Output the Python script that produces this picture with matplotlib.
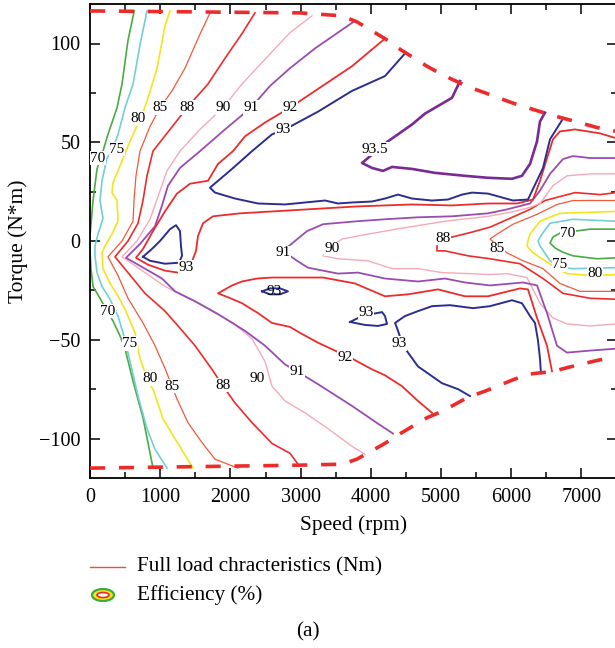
import matplotlib.pyplot as plt
from matplotlib.patches import Ellipse
from matplotlib.lines import Line2D
from matplotlib.ticker import MultipleLocator

plt.rcParams['font.family'] = ['Liberation Serif', 'DejaVu Serif']

# full load envelope, speed in rpm, torque in N*m
limit_speed = [0, 2990, 3590, 3800, 4200, 4420, 4800, 5030, 5390, 5630, 6010, 6230, 6600, 6810, 7220, 7500]
limit_upper = [116.5, 115.5, 114, 111, 102.5, 97, 88.5, 84, 78, 75, 70, 67.5, 63.5, 61.5, 57.5, 55.5]
limit_lower = [-115, -113.5, -113, -110.5, -102.5, -97.5, -89.5, -86, -79, -76, -70.5, -67.5, -66, -64, -60.5, -58.5]

# efficiency iso-lines, each one a list of (rpm, N*m) points
eff70 = [
    [(630, 116.5), (541, 101.5), (456, 79.5), (385, 67.5), (256, 54), (185, 45.5), (100, 36.5), (43, 20.5),
     (0, 2.5), (0, -5), (14, -14), (43, -23), (142, -29), (228, -34.5), (328, -40.5), (427, -48), (499, -54.5),
     (613, -71), (755, -89.5), (898, -115)],
    [(7500, 6), (7123, 6), (6909, 5), (6695, 4), (6595, 2), (6553, -1), (6624, -3.5), (6724, -5.5),
     (6880, -7.5), (7222, -9), (7500, -8.5)],
]
eff75 = [
    [(812, 116.5), (713, 99.5), (613, 79.5), (499, 67.5), (399, 54), (313, 45.5), (242, 42), (171, 30.5),
     (142, 20.5), (185, 11.5), (114, 3.5), (71, -2.5), (71, -7.5), (100, -16), (171, -23), (285, -29.5),
     (399, -38), (470, -46.5), (541, -56.5), (684, -78.5), (812, -95), (926, -105.5), (1097, -115)],
    [(7500, 10), (6880, 11), (6553, 9), (6439, 3.5), (6382, 0), (6410, -2.5), (6553, -10), (6695, -13.5),
     (6880, -14), (7500, -13.5)],
]
eff80 = [
    [(1140, 116.5), (1069, 109), (955, 87.5), (827, 72.5), (755, 65), (570, 50.5), (456, 40.5), (328, 29.5),
     (313, 24.5), (385, 20.5), (399, 10), (313, 3.5), (214, -2.5), (171, -6), (185, -14), (285, -21.5),
     (385, -27), (499, -34.5), (641, -46.5), (713, -59.5), (827, -71), (898, -75), (1040, -90), (1183, -98.5),
     (1468, -115)],
    [(7500, 15), (6695, 14), (6510, 11.5), (6410, 10), (6268, 3.5), (6239, 0), (6225, -2.5), (6311, -6),
     (6652, -14), (6795, -16.5), (7123, -17.5), (7500, -17)],
]
eff85 = [
    [(1709, 115.5), (1538, 102.5), (1353, 87.5), (1168, 76), (997, 67.5), (855, 58), (712, 45.5), (655, 33),
     (627, 20.5), (613, 10), (456, 0), (256, -8), (399, -17.5), (541, -29), (755, -41.5), (926, -53),
     (1068, -64.5), (1168, -73.5), (1239, -80), (1396, -92), (1595, -102), (1781, -110.5), (2108, -115)],
    [(7500, 20.5), (6880, 20.5), (6652, 18.5), (6368, 13.5), (6026, 8.5), (5798, 3.5), (5698, 1),
     (5798, -2), (5940, -6), (6168, -10), (6453, -14), (6695, -21.5), (6980, -25.5), (7500, -25.5)],
]
eff88 = [
    [(2350, 115.5), (2165, 105), (1923, 92.5), (1681, 79.5), (1382, 67.5), (1140, 56.5), (897, 45.5),
     (812, 33), (755, 20.5), (684, 9), (541, 0), (356, -8), (541, -16), (783, -26.5), (1068, -35.5),
     (1254, -43), (1496, -53), (1738, -65), (1895, -73.5), (2066, -82), (2308, -92), (2593, -102.5),
     (2849, -107.5), (2963, -113)],
    [(7500, 24.5), (7265, 23.5), (6909, 24.5), (6695, 22.5), (6481, 20.5), (6268, 16), (5983, 11.5),
     (5698, 7), (5442, 4.5), (5157, 2), (4986, 1), (4943, -2.5), (4943, -5), (5057, -5), (5385, -7.5),
     (5698, -9), (6125, -11.5), (6453, -19), (6738, -26.5), (7123, -29), (7500, -29.5)],
]
eff90 = [
    [(3162, 114), (2849, 105.5), (2493, 92), (2165, 79.5), (1895, 67.5), (1567, 56.5), (1282, 45.5),
     (1097, 35.5), (969, 22.5), (855, 11), (669, 0), (456, -8), (783, -16), (1068, -23), (1567, -32),
     (2037, -41.5), (2308, -49.5), (2493, -61), (2593, -73.5), (2778, -81), (3063, -87), (3390, -95),
     (3732, -104), (3917, -108)],
    [(7500, 34), (7123, 34), (6795, 33), (6595, 28), (6410, 19), (6268, 17), (5983, 14.5), (5670, 12.5),
     (5057, 10), (4444, 6.5), (3960, 3.5), (3590, 1), (3447, -2.5), (3319, -7.5), (3533, -9), (3960, -10),
     (4302, -14), (4672, -14), (5014, -16), (5385, -16.5), (5698, -17), (5940, -16.5), (6225, -18.5),
     (6410, -31.5), (6595, -39), (6795, -42), (7123, -43), (7500, -42)],
]
eff91 = [
    [(3775, 111.5), (3205, 97.5), (2849, 87.5), (2564, 78.5), (2293, 67.5), (1923, 56.5), (1567, 45.5),
     (1282, 37), (1111, 28), (1026, 18), (926, 7.5), (712, -1.5), (513, -8.5), (783, -14), (1026, -19),
     (1211, -25.5), (1496, -30.5), (1823, -37), (2208, -45.5), (2493, -53), (2778, -62.5), (2949, -66),
     (3248, -72.5), (3732, -83.5), (4103, -92.5), (4316, -97.5)],
    [(7500, 42), (7123, 42), (6880, 43), (6738, 41.5), (6553, 34), (6410, 25.5), (6268, 19), (5940, 16),
     (5670, 14), (5157, 12.5), (4672, 12), (4202, 11), (3803, 10), (3319, 8.5), (3091, 5), (2920, 0),
     (2749, -5), (2949, -10), (3105, -13.5), (3319, -15), (3533, -16.5), (3818, -16), (4202, -19),
     (4672, -20.5), (5057, -19), (5342, -21), (5698, -22.5), (6168, -21), (6368, -22.5), (6510, -36.5),
     (6652, -53), (6795, -56.5), (7123, -55.5), (7500, -54.5)],
]
eff92 = [
    [(4202, 102.5), (3732, 88.5), (3248, 77), (2849, 67.5), (2493, 60), (2208, 53), (2037, 45.5),
     (1823, 39), (1681, 30.5), (1425, 29), (1239, 24), (1068, 15), (897, 5), (755, -4), (655, -8.5),
     (826, -12), (1068, -15), (1254, -16), (1425, -13), (1510, -5), (1538, 2.5), (1610, 9), (1752, 12.5),
     (2137, 14), (2849, 15.5), (3803, 17.5), (4587, 18.5), (5157, 18), (5670, 19), (6082, 19), (6311, 21),
     (6410, 30.5), (6595, 51.5), (6695, 55.5), (6909, 56.5), (7265, 54.5), (7500, 52)],
    [(4872, -87), (4672, -81), (4444, -73.5), (4202, -68), (4017, -65), (3732, -59.5), (3248, -51.5),
     (2991, -46.5), (2849, -43.5), (2593, -41.5), (2393, -36.5), (2165, -31.5), (1966, -28.5),
     (1823, -26.5), (2023, -22.5), (2165, -20.5), (2379, -19), (2593, -18.5), (2849, -18.5), (3319, -18.5),
     (3775, -21.5), (4202, -28), (4530, -27), (4957, -24.5), (5342, -28), (5670, -28), (6125, -24),
     (6239, -24.5), (6368, -39), (6510, -53), (6581, -66)],
]
eff93 = [
    [(4500, 95.5), (4202, 83.5), (3732, 76), (3248, 65.5), (2778, 56.5), (2593, 54), (2308, 45.5),
     (2023, 36.5), (1709, 27), (1781, 24.5), (2066, 21.5), (2393, 19), (2778, 18.5), (3063, 19.5),
     (3348, 20.5), (3533, 19), (3732, 19.5), (4017, 20), (4202, 21.5), (4387, 23.5), (4587, 21.5),
     (4872, 20.5), (5100, 21), (5299, 23.5), (5442, 24.5), (5670, 24), (6026, 20.5), (6239, 21),
     (6453, 37), (6553, 51.5), (6738, 62)],
    [(755, -8), (883, -4), (997, 0), (1140, 6), (1225, 8), (1282, 5), (1296, -2.5), (1311, -7.5),
     (1268, -11), (1068, -11.5), (855, -10), (755, -8)],
    [(2450, -25.5), (2564, -24), (2707, -24), (2820, -25.5), (2707, -27), (2564, -27), (2450, -25.5)],
    [(3704, -41), (3875, -38), (4160, -36), (4202, -38), (4231, -42), (4103, -43), (3917, -42.5), (3704, -41)],
    [(5413, -78.5), (5242, -75), (5014, -72), (4672, -63.5), (4459, -53), (4373, -44), (4345, -41.5),
     (4487, -38), (4672, -35.5), (4872, -33), (5128, -32.5), (5456, -34), (5698, -33), (6011, -30),
     (6153, -31.5), (6268, -38), (6339, -41.5), (6382, -50.5), (6410, -59.5), (6424, -67)],
]
eff935 = [
    [(5271, 81), (5157, 72.5), (4772, 64.5), (4587, 59), (4387, 54), (4245, 50.5), (3875, 39.5),
     (4017, 37), (4174, 35.5), (4302, 37.5), (4587, 36.5), (4914, 34.5), (5342, 33), (5670, 32),
     (6011, 31.5), (6153, 33), (6268, 39), (6368, 50.5), (6410, 60.5), (6481, 65)],
]

# inline level labels: text, rpm, N*m
level_labels = [
    ("70", 114, 42), ("70", 256, -35.5), ("70", 6809, 4),
    ("75", 385, 46.5), ("75", 570, -52), ("75", 6695, -12),
    ("80", 684, 62), ("80", 855, -69.5), ("80", 7194, -16.5),
    ("85", 997, 67.5), ("85", 1168, -73.5), ("85", 5798, -4),
    ("88", 1382, 67.5), ("88", 1895, -73), ("88", 5029, 1.5),
    ("90", 1895, 67.5), ("90", 2379, -69.5), ("90", 3447, -4),
    ("91", 2293, 67.5), ("91", 2949, -66), ("91", 2749, -6),
    ("92", 2849, 67.5), ("92", 3632, -59),
    ("93", 2749, 56.5), ("93", 1368, -13.5), ("93", 2621, -25.5), ("93", 3932, -36), ("93", 4402, -52),
    ("93.5", 4060, 46.5),
]

RED = '#ee2b2b'
styles = [
    (eff70, '#4aab45', 1.2),
    (eff75, '#72cfd2', 1.2),
    (eff80, '#f4e41c', 1.2),
    (eff85, '#f2583c', 0.9),
    (eff88, RED, 1.2),
    (eff90, '#f5aab9', 1.0),
    (eff91, '#9a4cb0', 1.3),
    (eff92, RED, 1.3),
    (eff93, '#2c2e8f', 1.4),
    (eff935, '#7a2a97', 1.9),
]

fig = plt.figure(figsize=(6.15, 6.48), dpi=100)
ax = fig.add_axes([90 / 615, 170 / 648, 526.5 / 615, 474 / 648])

for lines, color, lw in styles:
    for seg in lines:
        xs, ys = zip(*seg)
        ax.plot(xs, ys, color=color, lw=lw, solid_joinstyle='round', zorder=2)

ax.plot(limit_speed, limit_upper, color=RED, lw=2.6, dashes=(4.2, 3.8), zorder=3)
ax.plot(limit_speed, limit_lower, color=RED, lw=2.6, dashes=(4.2, 3.8), zorder=3)

for txt, sx, ty in level_labels:
    box = None
    if not (txt == "93" and sx == 2621):
        box = dict(boxstyle='square,pad=0.05', fc='white', ec='none')
    ax.text(sx, ty, txt, fontsize=11, ha='center', va='center', bbox=box, zorder=4)

ax.set_xlim(0, 7500)
ax.set_ylim(-120, 120)
ax.xaxis.set_major_locator(MultipleLocator(1000))
ax.xaxis.set_minor_locator(MultipleLocator(500))
ax.yaxis.set_major_locator(MultipleLocator(50))
ax.yaxis.set_minor_locator(MultipleLocator(25))
ax.tick_params(which='both', direction='in', top=True, right=True, width=1.1, labelsize=14.5)
ax.tick_params(which='major', length=7)
ax.tick_params(which='minor', length=4.5)
ax.tick_params(axis='x', pad=7)
ax.tick_params(axis='y', pad=7)
for sp in ax.spines.values():
    sp.set_linewidth(1.3)
ax.set_xlabel('Speed (rpm)', fontsize=15.5, labelpad=6)
ax.set_ylabel('Torque (N*m)', fontsize=15.5, labelpad=8)

# legend block under the axes
fig.add_artist(Line2D([90 / 615, 125 / 615], [1 - 567 / 648] * 2, color='#f04a38', lw=1.0,
                      transform=fig.transFigure))
fig.text(137 / 615, 1 - 567 / 648, 'Full load chracteristics (Nm)', fontsize=15.3, va='center')
cx, cy = 103 / 615, 1 - 595 / 648
fig.add_artist(Ellipse((cx, cy), 22 / 615, 12 / 648, fc='#f4e41c', ec='#3dab3d', lw=1.6,
                       transform=fig.transFigure))
fig.add_artist(Ellipse((cx, cy), 12 / 615, 5 / 648, fc='white', ec=RED, lw=1.2,
                       transform=fig.transFigure))
fig.text(137 / 615, cy, 'Efficiency (%)', fontsize=15.3, va='center')
fig.text(308 / 615, 1 - 632 / 648, '(a)', fontsize=15.3, ha='center', va='center')

fig.savefig('out.png', dpi=100)
